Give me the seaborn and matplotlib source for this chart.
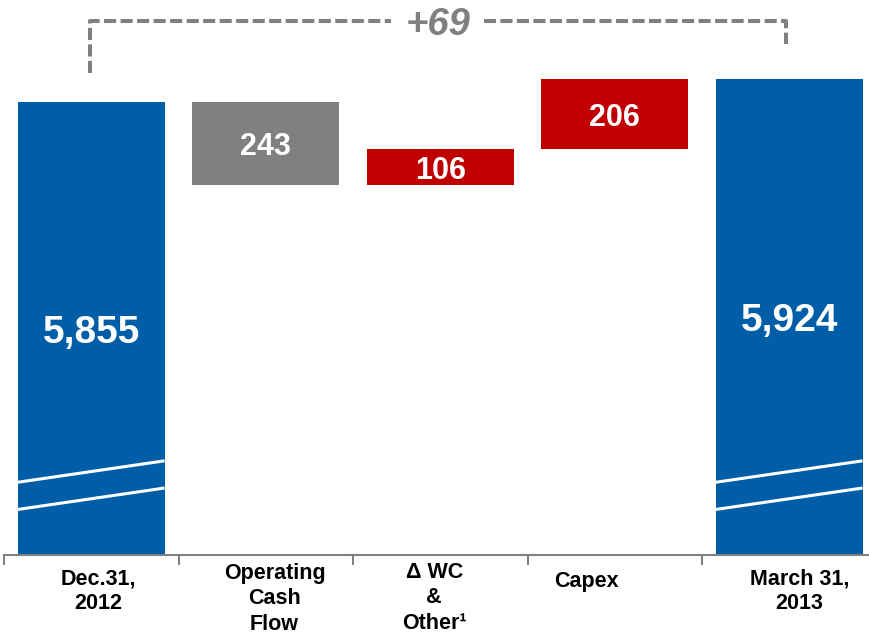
import matplotlib
matplotlib.use("Agg")
import matplotlib.pyplot as plt
import matplotlib.transforms as mtransforms
import seaborn as sns
import pandas as pd
import numpy as np

# ---------------- data ----------------
categories = ["Dec.31,\n2012", "Operating\nCash\nFlow", "Δ WC\n&\nOther¹", "Capex", "March 31,\n2013"]
start_value = 5855
changes = [-243, 106, 206]
end_value = 5924
kinds = ["total", "change", "change", "change", "total"]
value_labels = ["5,855", "243", "106", "206", "5,924"]
bar_colors = ["#005EA8", "#808080", "#C00000", "#C00000", "#005EA8"]

# ---------------- layout ----------------
y_floor = 4524            # broken-axis floor of the chart
px_per_unit = 0.34
label_nudge_x = [0.04, 0.05, -0.035, -0.16, 0.057]
label_nudge_px = [0, 5, 6, -3, 0]

sns.set_theme(style="white")
plt.rcParams["font.family"] = ["Liberation Sans", "DejaVu Sans"]

# waterfall geometry
bottoms, tops = [y_floor], [start_value]
run = start_value
for c in changes:
    new = run + c
    bottoms.append(min(run, new))
    tops.append(max(run, new))
    run = new
bottoms.append(y_floor)
tops.append(end_value)

df = pd.DataFrame({"category": categories, "top": tops})

fig = plt.figure(figsize=(8.7, 6.35), dpi=100)
ax = fig.add_axes([4 / 870, 80 / 635, 866 / 870, 555 / 635])

sns.barplot(data=df, x="category", y="top", hue="category", order=categories,
            hue_order=categories, palette=bar_colors, width=0.84, legend=False,
            saturation=1, edgecolor="none", linewidth=0, ax=ax)

patch_by_idx = {}
for p in ax.patches:
    i = int(round(p.get_x() + p.get_width() / 2))
    p.set_y(bottoms[i])
    p.set_height(tops[i] - bottoms[i])
    patch_by_idx[i] = p

# axes styling
for s in ["top", "left", "right"]:
    ax.spines[s].set_visible(False)
ax.spines["bottom"].set_color("#808080")
ax.spines["bottom"].set_linewidth(1.5)
ax.spines["bottom"].set_zorder(5)
ax.set_xlabel("")
ax.set_ylabel("")
ax.set_yticks([])
ax.set_xticks(range(len(categories)))
ax.set_xticklabels([""] * len(categories))
ax.set_xticks(np.arange(-0.5, len(categories) - 1, 1), minor=True)
ax.tick_params(axis="x", which="major", length=0, labelbottom=False)
ax.tick_params(axis="x", which="minor", bottom=True, length=7, width=1.5,
               color="#808080", direction="out")

ax.set_xlim(-0.5, -0.5 + 866 / 174.5)
ax.set_ylim(y_floor, y_floor + 555 / px_per_unit)

# axis-break marks on total bars
for i, k in enumerate(kinds):
    if k == "total":
        p = patch_by_idx[i]
        x0, x1 = p.get_x(), p.get_x() + p.get_width()
        for off in (134, 214):
            ax.plot([x0, x1], [y_floor + off, y_floor + off + 63], color="white",
                    lw=2.2, solid_capstyle="butt", zorder=4)

# value labels
for i, (lab, b, t, k) in enumerate(zip(value_labels, bottoms, tops, kinds)):
    ax.text(i, (b + t) / 2, lab, ha="center", va="center_baseline", color="white",
            fontsize=28 if k == "total" else 22, fontweight="bold", zorder=6)

# category labels
trans = mtransforms.blended_transform_factory(ax.transData, ax.transAxes)
for i, cat in enumerate(categories):
    ax.text(i + label_nudge_x[i], (-13 + label_nudge_px[i]) / 555, cat, transform=trans,
            ha="center", va="top", multialignment="center", fontsize=15.5,
            fontweight="bold", color="black", linespacing=1.28, clip_on=False)

# bracket showing net change
net = end_value - start_value
yb = max(tops) + 170
lx, rx = 0 - 0.01, len(categories) - 1 - 0.02
ax.plot([lx, lx, rx, rx], [tops[0] + 88, yb, yb, tops[-1] + 103], color="#808080",
        lw=2.9, dashes=(3.0, 1.1), clip_on=False, zorder=3)
ax.text((lx + rx) / 2, yb, f"{net:+d}", ha="center", va="center_baseline",
        color="#808080", fontsize=27.5, fontweight="bold", fontstyle="italic",
        bbox=dict(facecolor="white", edgecolor="none", boxstyle="square,pad=0.37"),
        zorder=4, clip_on=False)

fig.savefig("out.png", dpi=100)
